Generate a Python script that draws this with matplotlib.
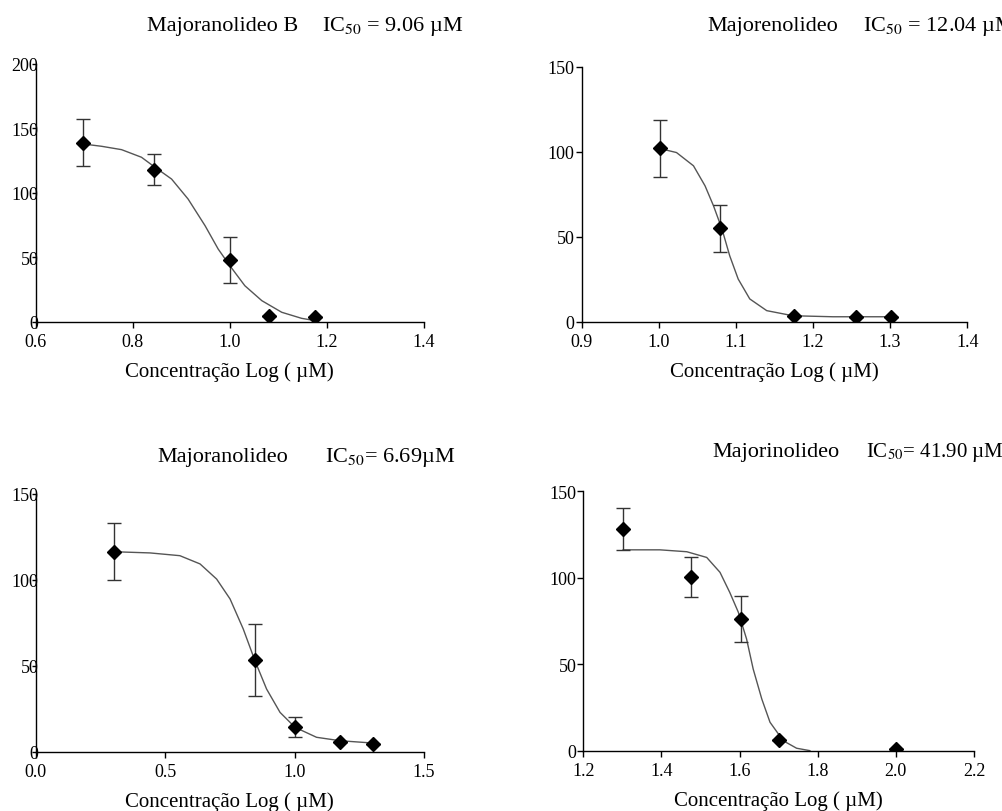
import matplotlib
matplotlib.use('Agg')
import matplotlib.pyplot as plt

plt.rcParams['font.family'] = ['Liberation Serif', 'DejaVu Serif']
plt.rcParams['mathtext.fontset'] = 'stix'

# ── Data (x = log concentration, y = response) ───────────────────────────────
# Majoranolideo B
mb_x = [0.698, 0.844, 1.000, 1.080, 1.176]
mb_y = [139, 118, 48, 4.4, 4.0]
mb_err = [18, 12, 18, 0, 0]
mb_fit_x = [0.698, 0.736, 0.777, 0.818, 0.846, 0.880, 0.914, 0.949, 0.976,
            1.000, 1.031, 1.066, 1.107, 1.148, 1.176]
mb_fit_y = [137.9, 136.1, 133.5, 127.6, 119.8, 110.7, 95.2, 74.5, 56.4,
            43.5, 27.9, 16.3, 7.3, 2.6, 0.8]

# Majorenolideo
me_x = [1.001, 1.080, 1.176, 1.256, 1.301]
me_y = [102, 55, 3.4, 3.0, 3.0]
me_err = [17, 14, 0, 0, 0]
me_fit_x = [1.001, 1.023, 1.045, 1.060, 1.071, 1.082, 1.092, 1.103, 1.118,
            1.140, 1.174, 1.226, 1.300]
me_fit_y = [102, 99.6, 91.8, 80, 68.2, 54.5, 38.8, 25.1, 13.4,
            6.5, 3.5, 2.9, 2.9]

# Majoranolideo
ma_x = [0.302, 0.847, 1.002, 1.177, 1.302]
ma_y = [116.4, 53.4, 14.4, 5.8, 4.7]
ma_err = [16.5, 20.7, 5.6, 0, 0]
ma_fit_x = [0.302, 0.442, 0.557, 0.635, 0.699, 0.751, 0.802, 0.847, 0.892,
            0.944, 1.002, 1.085, 1.176, 1.298]
ma_fit_y = [116.4, 115.7, 114.1, 109.3, 100.5, 88.9, 71.4, 53.0, 36.5,
            22.9, 14.2, 8.4, 6.4, 5.1]

# Majorinolideo
mi_x = [1.302, 1.477, 1.604, 1.701, 2.000]
mi_y = [128.2, 100.5, 76.2, 6.2, 1.0]
mi_err = [12, 11.7, 13.5, 0, 0]
mi_fit_x = [1.302, 1.396, 1.465, 1.516, 1.550, 1.575, 1.597, 1.618, 1.635,
            1.657, 1.678, 1.712, 1.746, 1.780]
mi_fit_y = [116.2, 116.2, 115.1, 111.8, 103.2, 91.6, 80.1, 64.7, 47.3,
            30.0, 16.6, 5.9, 1.6, 0.2]

names = ['Majoranolideo B', 'Majorenolideo', 'Majoranolideo', 'Majorinolideo']
ic50_labels = ['IC$_{50}$ = 9.06 µM', 'IC$_{50}$ = 12.04 µM',
               'IC$_{50}$= 6.69µM', 'IC$_{50}$= 41.90 µM']
ic50_sizes = [16, 16, 16, 15]

panels = [
    # (rect, data, xlim, xticks, ylim, yticks, overlap_labels, name_xy, ic_xy)
    ([0.0356, 0.6026, 0.3875, 0.3174], (mb_x, mb_y, mb_err, mb_fit_x, mb_fit_y),
     (0.6, 1.4), [0.6, 0.8, 1.0, 1.2, 1.4], (0, 200), [0, 50, 100, 150, 200], True,
     (147, 27), (322, 27)),
    ([0.5805, 0.6026, 0.3848, 0.3137], (me_x, me_y, me_err, me_fit_x, me_fit_y),
     (0.9, 1.4), [0.9, 1.0, 1.1, 1.2, 1.3, 1.4], (0, 150), [0, 50, 100, 150], False,
     (707, 27), (863, 27)),
    ([0.0356, 0.0730, 0.3875, 0.3174], (ma_x, ma_y, ma_err, ma_fit_x, ma_fit_y),
     (0.0, 1.5), [0.0, 0.5, 1.0, 1.5], (0, 150), [0, 50, 100, 150], True,
     (157, 458), (325, 458)),
    ([0.5821, 0.0739, 0.3899, 0.3198], (mi_x, mi_y, mi_err, mi_fit_x, mi_fit_y),
     (1.2, 2.2), [1.2, 1.4, 1.6, 1.8, 2.0, 2.2], (0, 150), [0, 50, 100, 150], False,
     (712, 453), (866, 453)),
]

W, H = 1002, 812
fig = plt.figure(figsize=(W / 100, H / 100), dpi=100)

for i, (rect, data, xlim, xticks, ylim, yticks, overlap, name_xy, ic_xy) in enumerate(panels):
    px, py, perr, fx, fy = data
    ax = fig.add_axes(rect)
    ax.plot(fx, fy, color='#555555', linewidth=1.0, zorder=2)
    ax.errorbar(px, py, yerr=perr, fmt='D', color='black', markersize=7,
                ecolor='#333333', elinewidth=1.0, capsize=5, capthick=1.0, zorder=3)
    ax.set_xlim(*xlim)
    ax.set_ylim(*ylim)
    ax.set_xticks(xticks)
    ax.set_xticklabels([f'{t:.1f}' for t in xticks])
    ax.set_yticks(yticks)
    for side in ('top', 'right'):
        ax.spines[side].set_visible(False)
    for side in ('left', 'bottom'):
        ax.spines[side].set_linewidth(1.0)
    ax.tick_params(axis='x', direction='out', length=4, width=1, pad=4, labelsize=13)
    if overlap:
        ax.tick_params(axis='y', direction='out', length=3, width=1, pad=-5, labelsize=13)
    else:
        ax.tick_params(axis='y', direction='out', length=4, width=1, pad=1, labelsize=13)
    ax.set_xlabel('Concentração Log ( µM)', fontsize=15, labelpad=8)
    ax.patch.set_alpha(0)

    fig.text(name_xy[0] / W, 1 - name_xy[1] / H, names[i], fontsize=16,
             ha='left', va='center')
    fig.text(ic_xy[0] / W, 1 - ic_xy[1] / H, ic50_labels[i], fontsize=ic50_sizes[i],
             ha='left', va='center')

fig.savefig('out.png', dpi=100)
